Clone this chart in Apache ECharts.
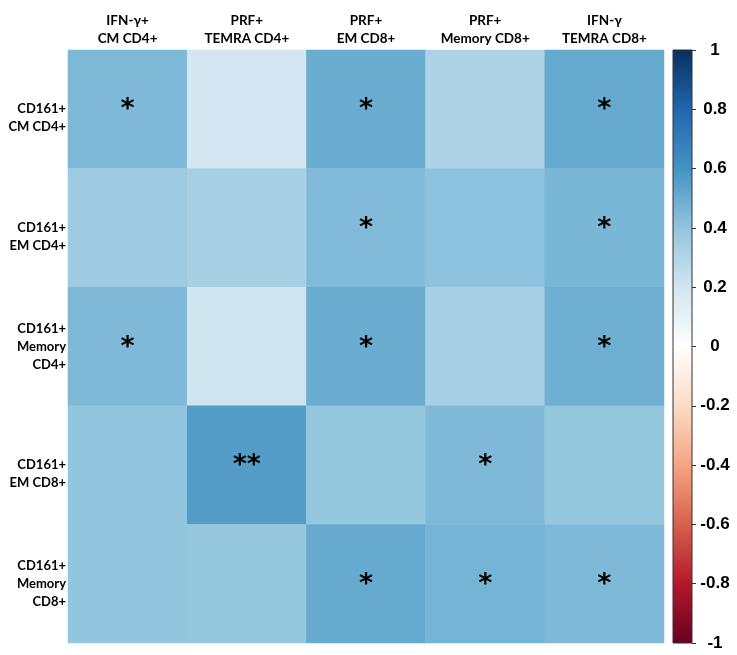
<!DOCTYPE html>
<html>
<head>
<meta charset="utf-8">
<script src="https://cdn.jsdelivr.net/npm/echarts@6/dist/echarts.min.js"></script>
<style>html,body{margin:0;padding:0;background:#fff;}#c{width:737px;height:655px;}</style>
</head>
<body>
<div id="c"></div>
<script>
const colLabels = ['IFN-γ+\nCM CD4+', 'PRF+\nTEMRA CD4+', 'PRF+\nEM CD8+', 'PRF+\nMemory CD8+', 'IFN-γ\nTEMRA CD8+'];
const rowLabels = ['CD161+\nCM CD4+', 'CD161+\nEM CD4+', 'CD161+\nMemory\nCD4+', 'CD161+\nEM CD8+', 'CD161+\nMemory\nCD8+'];
const corrRow1 = [0.45, 0.19, 0.50, 0.31, 0.51];
const corrRow2 = [0.36, 0.33, 0.44, 0.41, 0.46];
const corrRow3 = [0.45, 0.20, 0.50, 0.33, 0.49];
const corrRow4 = [0.40, 0.56, 0.39, 0.45, 0.39];
const corrRow5 = [0.40, 0.39, 0.51, 0.47, 0.45];
const sigRow1 = ['*', '', '*', '', '*'];
const sigRow2 = ['', '', '*', '', '*'];
const sigRow3 = ['*', '', '*', '', '*'];
const sigRow4 = ['', '**', '', '*', ''];
const sigRow5 = ['', '', '*', '*', '*'];
const rdbu = ['#67001F','#B2182B','#D6604D','#F4A582','#FDDBC7','#FFFFFF','#D1E5F0','#92C5DE','#4393C3','#2166AC','#053061'];

const corr = [corrRow1, corrRow2, corrRow3, corrRow4, corrRow5];
const sig = [sigRow1, sigRow2, sigRow3, sigRow4, sigRow5];
const data = [];
corr.forEach((row, r) => row.forEach((v, c) => data.push([c, r, v, sig[r][c]])));

const chart = echarts.init(document.getElementById('c'), null, {renderer: 'canvas'});
const gridMain = {left: 68, top: 50, right: 73, bottom: 12};
const gridBar = {left: 673, top: 50, width: 19, bottom: 12};

chart.setOption({
  backgroundColor: '#fff',
  animation: false,
  grid: [gridMain, gridBar],
  xAxis: [
    {type: 'category', data: colLabels, position: 'top', gridIndex: 0,
     axisLine: {show: false}, axisTick: {show: false}, splitLine: {show: false},
     axisLabel: {margin: 2, lineHeight: 18, interval: 0, fontFamily: 'Lato', fontWeight: 'bold', fontSize: 13.5, color: '#000'}},
    {type: 'category', data: [''], gridIndex: 1, show: false}
  ],
  yAxis: [
    {type: 'category', data: rowLabels, inverse: true, gridIndex: 0,
     axisLine: {show: false}, axisTick: {show: false}, splitLine: {show: false},
     axisLabel: {margin: 2, lineHeight: 18, align: 'right', interval: 0, fontFamily: 'Lato', fontWeight: 'bold', fontSize: 13, color: '#000',
       formatter: v => v.split('\n').length === 2 ? '\n' + v : v}},
    {type: 'value', gridIndex: 1, min: -1, max: 1, interval: 0.2, position: 'right',
     axisLine: {show: false}, splitLine: {show: false},
     axisTick: {show: true, length: 4, inside: false, lineStyle: {color: '#333', width: 1}},
     axisLabel: {margin: 23, align: 'center', fontFamily: 'Liberation Sans', fontWeight: 'bold', fontSize: 17, color: '#000',
       formatter: v => String(Math.round(v * 10) / 10)}}
  ],
  visualMap: {show: false, type: 'continuous', min: -1, max: 1, dimension: 2, seriesIndex: 0, inRange: {color: rdbu}},
  series: [{
    type: 'heatmap', xAxisIndex: 0, yAxisIndex: 0, data: data,
    label: {show: true, formatter: p => p.data[3], fontFamily: 'DejaVu Sans', fontWeight: 'bold', fontSize: 27, color: '#000', offset: [0, 1]},
    itemStyle: {borderWidth: 0},
    emphasis: {disabled: true}
  }],
  graphic: [{
    type: 'rect', z: 10,
    shape: {x: 673, y: 50, width: 19, height: 593},
    style: {
      fill: new echarts.graphic.LinearGradient(0, 1, 0, 0, rdbu.map((c, i) => ({offset: i / (rdbu.length - 1), color: c}))),
      stroke: '#333', lineWidth: 1
    }
  }]
});
</script>
</body>
</html>
